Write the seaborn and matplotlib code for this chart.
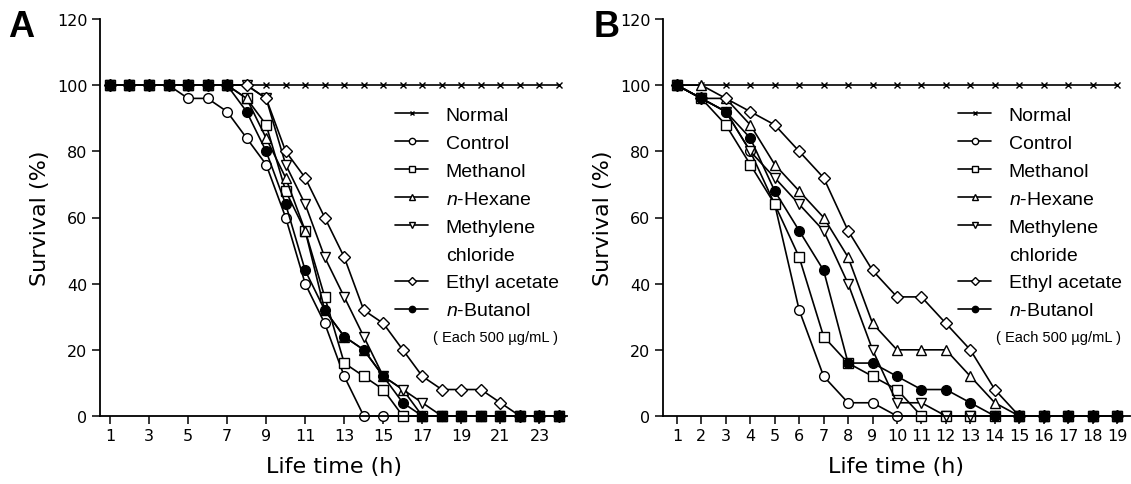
import matplotlib
matplotlib.use("Agg")
import matplotlib.pyplot as plt
import seaborn as sns
from matplotlib.lines import Line2D

# ---- data ----
hours_a = [1, 2, 3, 4, 5, 6, 7, 8, 9, 10, 11, 12, 13, 14, 15, 16, 17, 18, 19, 20, 21, 22, 23, 24]
hours_b = [1, 2, 3, 4, 5, 6, 7, 8, 9, 10, 11, 12, 13, 14, 15, 16, 17, 18, 19]

series_names = ["Normal", "Control", "Methanol", "n-Hexane",
                "Methylene chloride", "Ethyl acetate", "n-Butanol"]

normal_a = [100, 100, 100, 100, 100, 100, 100, 100, 100, 100, 100, 100,
            100, 100, 100, 100, 100, 100, 100, 100, 100, 100, 100, 100]
control_a = [100, 100, 100, 100, 96, 96, 92, 84, 76, 60, 40, 28,
             12, 0, 0, 0, 0, 0, 0, 0, 0, 0, 0, 0]
methanol_a = [100, 100, 100, 100, 100, 100, 100, 96, 88, 68, 56, 36,
              16, 12, 8, 0, 0, 0, 0, 0, 0, 0, 0, 0]
hexane_a = [100, 100, 100, 100, 100, 100, 100, 96, 84, 72, 56, 32,
            24, 20, 12, 8, 0, 0, 0, 0, 0, 0, 0, 0]
methylene_a = [100, 100, 100, 100, 100, 100, 100, 100, 96, 76, 64, 48,
               36, 24, 12, 8, 4, 0, 0, 0, 0, 0, 0, 0]
ethyl_a = [100, 100, 100, 100, 100, 100, 100, 100, 96, 80, 72, 60,
           48, 32, 28, 20, 12, 8, 8, 8, 4, 0, 0, 0]
butanol_a = [100, 100, 100, 100, 100, 100, 100, 92, 80, 64, 44, 32,
             24, 20, 12, 4, 0, 0, 0, 0, 0, 0, 0, 0]

normal_b = [100, 100, 100, 100, 100, 100, 100, 100, 100, 100,
            100, 100, 100, 100, 100, 100, 100, 100, 100]
control_b = [100, 96, 92, 80, 64, 32, 12, 4, 4, 0, 0, 0, 0, 0, 0, 0, 0, 0, 0]
methanol_b = [100, 96, 88, 76, 64, 48, 24, 16, 12, 8, 0, 0, 0, 0, 0, 0, 0, 0, 0]
hexane_b = [100, 100, 96, 88, 76, 68, 60, 48, 28, 20, 20, 20, 12, 4, 0, 0, 0, 0, 0]
methylene_b = [100, 96, 92, 80, 72, 64, 56, 40, 20, 4, 4, 0, 0, 0, 0, 0, 0, 0, 0]
ethyl_b = [100, 96, 96, 92, 88, 80, 72, 56, 44, 36, 36, 28, 20, 8, 0, 0, 0, 0, 0]
butanol_b = [100, 96, 92, 84, 68, 56, 44, 16, 16, 12, 8, 8, 4, 0, 0, 0, 0, 0, 0]

xticks_a = [1, 3, 5, 7, 9, 11, 13, 15, 17, 19, 21, 23]
xticks_b = [1, 2, 3, 4, 5, 6, 7, 8, 9, 10, 11, 12, 13, 14, 15, 16, 17, 18, 19]
yticks = [0, 20, 40, 60, 80, 100, 120]
note_text = "( Each 500 \u00b5g/mL )"

# ---- style ----
sns.set_style("ticks")
plt.rcParams["font.family"] = ["DejaVu Sans"]
plt.rcParams["text.color"] = "black"
plt.rcParams["axes.labelcolor"] = "black"
plt.rcParams["xtick.color"] = "black"
plt.rcParams["ytick.color"] = "black"
plt.rcParams["mathtext.fontset"] = "custom"
plt.rcParams["mathtext.it"] = "Liberation Sans:italic"
plt.rcParams["mathtext.rm"] = "Liberation Sans"

# marker, face colour, size
marker_styles = {
    "Normal": ("x", "black", 5),
    "Control": ("o", "white", 7),
    "Methanol": ("s", "white", 6.5),
    "n-Hexane": ("^", "white", 7),
    "Methylene chloride": ("v", "white", 7),
    "Ethyl acetate": ("D", "white", 6),
    "n-Butanol": ("o", "black", 7),
}
legend_labels = {
    "Normal": "Normal",
    "Control": "Control",
    "Methanol": "Methanol",
    "n-Hexane": r"$\mathit{n}$-Hexane",
    "Methylene chloride": "Methylene",
    "Ethyl acetate": "Ethyl acetate",
    "n-Butanol": r"$\mathit{n}$-Butanol",
}


def draw_panel(ax, hours, values, xlim, xticks):
    for name, vals in zip(series_names, values):
        m, face, ms = marker_styles[name]
        sns.lineplot(x=hours, y=vals, ax=ax, color="black", marker=m,
                     markersize=ms, markerfacecolor=face,
                     markeredgecolor="black", markeredgewidth=1.0,
                     linewidth=1.2, errorbar=None, clip_on=False,
                     label=legend_labels[name])

    ax.set_xlim(*xlim)
    ax.set_ylim(0, 120)
    ax.set_xticks(xticks)
    ax.set_yticks(yticks)
    ax.tick_params(direction="out", length=6, width=1.1, color="black",
                   labelcolor="black", labelsize=11.5, pad=3)
    for side in ["top", "right"]:
        ax.spines[side].set_visible(False)
    for side in ["left", "bottom"]:
        ax.spines[side].set_linewidth(1.3)
        ax.spines[side].set_color("black")
    ax.set_xlabel("Life time (h)", fontsize=16, labelpad=9)
    ax.set_ylabel("Survival (%)", fontsize=16, labelpad=5)

    # legend: split "Methylene chloride" onto two rows
    handles, labels = ax.get_legend_handles_labels()
    idx = labels.index("Methylene") + 1
    handles.insert(idx, Line2D([], [], linestyle="none"))
    labels.insert(idx, "chloride")
    ax.legend(handles, labels, loc="upper left", bbox_to_anchor=(0.632, 0.78),
              frameon=False, borderaxespad=0, borderpad=0,
              handlelength=1.7, handletextpad=0.9, labelspacing=0.53,
              markerscale=0.65, prop={"family": "Liberation Sans", "size": 14})
    ax.text(0.713, 0.199, note_text, transform=ax.transAxes, ha="left",
            va="center", fontsize=10.5, family="Liberation Sans")


fig = plt.figure(figsize=(11.31, 4.85), dpi=100)
ax_a = fig.add_axes([100 / 1131, 68 / 485, 467 / 1131, 397 / 485])
ax_b = fig.add_axes([663 / 1131, 68 / 485, 467 / 1131, 397 / 485])

draw_panel(ax_a, hours_a,
           [normal_a, control_a, methanol_a, hexane_a, methylene_a, ethyl_a, butanol_a],
           (0.49, 24.41), xticks_a)
draw_panel(ax_b, hours_b,
           [normal_b, control_b, methanol_b, hexane_b, methylene_b, ethyl_b, butanol_b],
           (0.43, 19.53), xticks_b)

fig.text(8 / 1131, 1 - 10 / 485, "A", fontsize=26, fontweight="bold",
         family="Liberation Sans", ha="left", va="top")
fig.text(594 / 1131, 1 - 10 / 485, "B", fontsize=26, fontweight="bold",
         family="Liberation Sans", ha="left", va="top")

fig.savefig("out.png", dpi=100)
